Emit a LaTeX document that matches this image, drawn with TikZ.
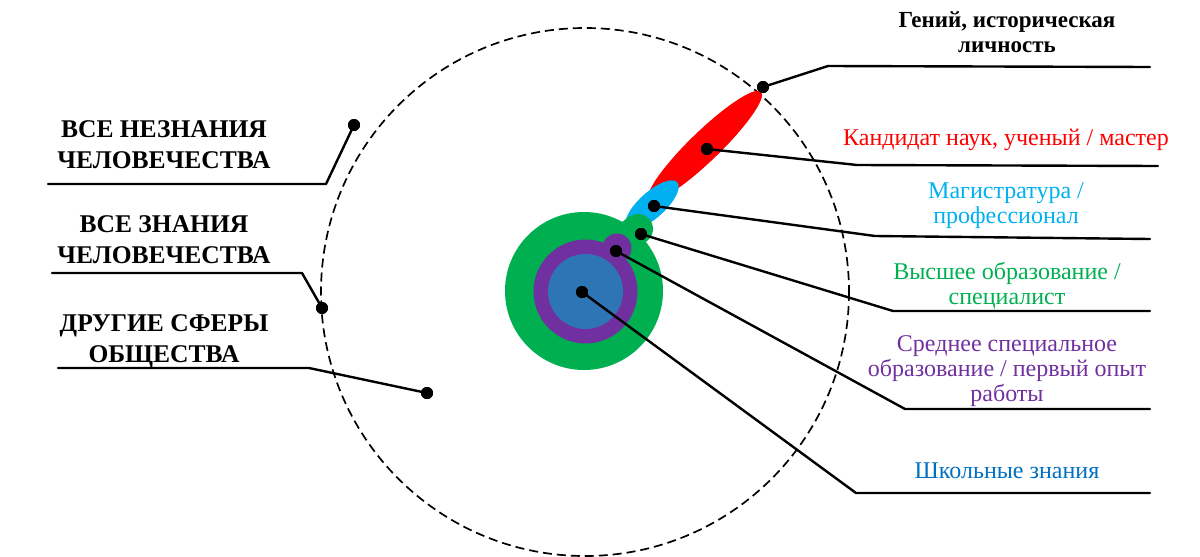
\documentclass[tikz,border=0pt]{standalone}
\usepackage{fontspec}
\setmainfont{Liberation Serif}
\definecolor{cred}{RGB}{255,0,0}
\definecolor{ccyan}{RGB}{0,176,240}
\definecolor{cgreen}{RGB}{0,176,80}
\definecolor{cpurple}{RGB}{112,48,160}
\definecolor{cblue}{RGB}{46,117,182}
\definecolor{ctext}{RGB}{0,112,192}
\begin{document}
\begin{tikzpicture}[x=1pt,y=-1pt,
  lead/.style={line width=2.4pt, line cap=round, line join=round},
  dotmark/.style={circle, fill=black, inner sep=0pt, minimum size=12pt},
  lbl/.style={font=\fontsize{24}{25}\selectfont, align=center, anchor=base, inner sep=0pt},
  blbl/.style={font=\bfseries\fontsize{25.5}{30.5}\selectfont, align=center, anchor=base, inner sep=0pt},
  tlbl/.style={font=\bfseries\fontsize{23}{25}\selectfont, align=center, anchor=base, inner sep=0pt}]
\useasboundingbox (0,0) rectangle (1200,557);
% outer dashed circle
\draw[line width=1.7pt, dash pattern=on 9pt off 5pt] (585,292) circle [radius=264];
% shapes
\fill[cred, rotate around={44:(705,146)}] (705,146) ellipse [x radius=78, y radius=15];
\fill[ccyan, rotate around={42:(652,205)}] (652,205) ellipse [x radius=34, y radius=13];
\fill[cgreen] (584,291) circle [radius=79];
\fill[cgreen] (638,229) circle [radius=15];
\fill[cgreen] (622,222) -- (630,216) -- (640,226) -- (628,240) -- cycle;
\fill[cpurple] (585.5,291.5) circle [radius=52];
\fill[cpurple] (617,248) circle [radius=14.5];
\fill[cblue] (585.5,291.5) circle [radius=37.5];
% dots
\node[dotmark] (dGen) at (763,87) {};
\node[dotmark] (dRed) at (707,149) {};
\node[dotmark] (dCyan) at (654,206) {};
\node[dotmark] (dGreen) at (641,234) {};
\node[dotmark] (dPurple) at (616,251) {};
\node[dotmark] (dBlue) at (582,292) {};
\node[dotmark] (dUnk) at (354,125) {};
\node[dotmark] (dKnow) at (322,308) {};
\node[dotmark] (dOther) at (427,393) {};
% leader corners and ends
\coordinate (kGen) at (828,66);   \coordinate (eGen) at (1150,67);
\coordinate (kRed) at (857,165);  \coordinate (eRed) at (1158,166);
\coordinate (kCyan) at (875,236); \coordinate (eCyan) at (1150,239);
\coordinate (kGreen) at (893,311); \coordinate (eGreen) at (1150,311);
\coordinate (kPurple) at (905,409); \coordinate (ePurple) at (1150,409);
\coordinate (kBlue) at (856,493); \coordinate (eBlue) at (1150,493);
\coordinate (kUnk) at (326,184); \coordinate (eUnk) at (48,184);
\coordinate (kKnow) at (302,273); \coordinate (eKnow) at (52,273);
\coordinate (kOther) at (309,368); \coordinate (eOther) at (58,368);
% leaders
\draw[lead] (dGen.center) -- (kGen) -- (eGen);
\draw[lead] (dRed.center) -- (kRed) -- (eRed);
\draw[lead] (dCyan.center) -- (kCyan) -- (eCyan);
\draw[lead] (dGreen.center) -- (kGreen) -- (eGreen);
\draw[lead] (dPurple.center) -- (kPurple) -- (ePurple);
\draw[lead] (dBlue.center) -- (kBlue) -- (eBlue);
\draw[lead] (dUnk.center) -- (kUnk) -- (eUnk);
\draw[lead] (dKnow.center) -- (kKnow) -- (eKnow);
\draw[lead] (dOther.center) -- (kOther) -- (eOther);
\node[dotmark] at (dGen) {};
\node[dotmark] at (dRed) {};
\node[dotmark] at (dCyan) {};
\node[dotmark] at (dGreen) {};
\node[dotmark] at (dPurple) {};
\node[dotmark] at (dBlue) {};
\node[dotmark] at (dUnk) {};
\node[dotmark] at (dKnow) {};
\node[dotmark] at (dOther) {};
% right labels (anchor = baseline of last line)
\node[tlbl] (tGen) at (1007,52) {Гений, историческая\\личность};
\node[lbl, text=cred] (tRed) at (1006,145) {Кандидат наук, ученый / мастер};
\node[lbl, text=ccyan] (tCyan) at (1006,223) {Магистратура /\\профессионал};
\node[lbl, text=cgreen] (tGreen) at (1007,304) {Высшее образование /\\специалист};
\node[lbl, text=cpurple] (tPurple) at (1007,401) {Среднее специальное\\образование / первый опыт\\работы};
\node[lbl, text=ctext] (tBlue) at (1007,478) {Школьные знания};
% left labels
\node[blbl] (tUnk) at (164,168) {ВСЕ НЕЗНАНИЯ\\ЧЕЛОВЕЧЕСТВА};
\node[blbl] (tKnow) at (164,263) {ВСЕ ЗНАНИЯ\\ЧЕЛОВЕЧЕСТВА};
\node[blbl] (tOther) at (164,362) {ДРУГИЕ СФЕРЫ\\ОБЩЕСТВА};
\end{tikzpicture}
\end{document}
